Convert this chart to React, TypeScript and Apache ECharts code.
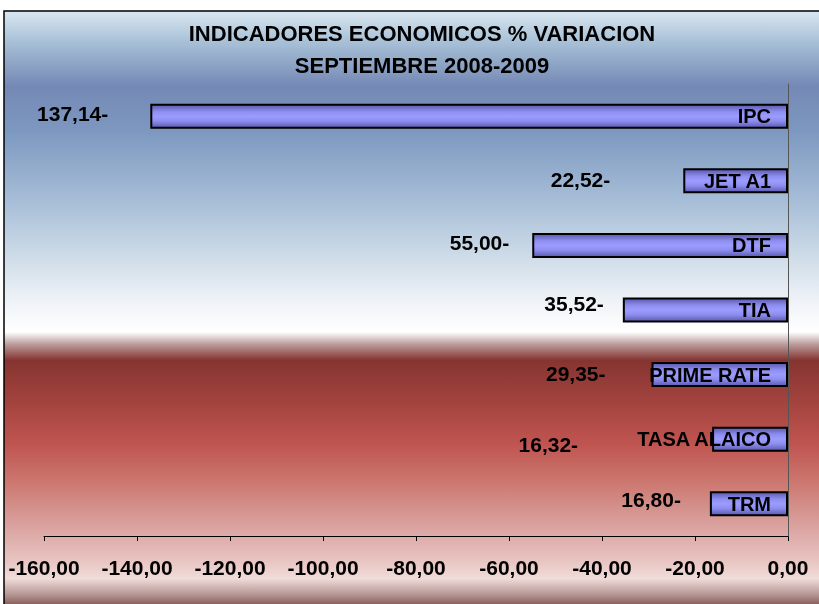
import React, { useEffect, useRef } from "react";
import * as echarts from "echarts";

const categories = ["IPC", "JET A1", "DTF", "TIA", "PRIME RATE", "TASA ALAICO", "TRM"];
const values = [-137.14, -22.52, -55.0, -35.52, -29.35, -16.32, -16.8];
const titleLines = ["INDICADORES ECONOMICOS % VARIACION", "SEPTIEMBRE 2008-2009"];
// manual nudges of the value labels (as placed in the original)
const labelNudges: [number, number][] = [
  [-42, -3],
  [-73, -1],
  [-23, -3],
  [-19, -7],
  [-46, -1],
  [-134, 5],
  [-29, -4],
];

const FONT = "'Liberation Sans', Arial, sans-serif";

function fmt(v: number): string {
  return Math.abs(v).toFixed(2).replace(".", ",") + "-";
}
function fmtAxis(v: number): string {
  return v.toFixed(2).replace(".", ",");
}

export default function App() {
  const ref = useRef<HTMLDivElement>(null);
  useEffect(() => {
    if (!ref.current) return;
    const chart = echarts.init(ref.current, null, { renderer: "svg" });
    const bg = new echarts.graphic.LinearGradient(0, 0, 0, 1, [
      { offset: 0, color: "#dae7f1" },
      { offset: 0.049, color: "#aac2d8" },
      { offset: 0.125, color: "#7489b5" },
      { offset: 0.2, color: "#7d98c0" },
      { offset: 0.32, color: "#a8bfd8" },
      { offset: 0.42, color: "#d3dfea" },
      { offset: 0.487, color: "#f0f4f8" },
      { offset: 0.535, color: "#ffffff" },
      { offset: 0.556, color: "#b89a98" },
      { offset: 0.582, color: "#863431" },
      { offset: 0.656, color: "#a5443f" },
      { offset: 0.723, color: "#c05550" },
      { offset: 0.79, color: "#cd7a73" },
      { offset: 0.858, color: "#daa29f" },
      { offset: 0.917, color: "#e8c5c2" },
      { offset: 0.946, color: "#f0dcd9" },
      { offset: 0.973, color: "#b59593" },
      { offset: 1, color: "#6c3a34" },
    ]);
    const barGrad = new echarts.graphic.LinearGradient(0, 0, 0, 1, [
      { offset: 0, color: "#5a5aae" },
      { offset: 0.3, color: "#8e8ef0" },
      { offset: 0.5, color: "#9c9cff" },
      { offset: 0.7, color: "#8e8ef0" },
      { offset: 1, color: "#5a5aae" },
    ]);
    chart.setOption({
      animation: false,
      graphic: [
        {
          type: "rect",
          z: -10,
          silent: true,
          shape: { x: 4, y: 11, width: 830, height: 600 },
          style: { fill: bg, stroke: "#000", lineWidth: 1.5 },
        },
      ],
      title: {
        text: titleLines.join("\n"),
        left: 417,
        top: 12,
        textAlign: "center",
        textStyle: {
          fontFamily: FONT,
          fontSize: 22,
          fontWeight: "bold",
          color: "#000",
          lineHeight: 32,
        },
      },
      grid: { left: 44, right: 31, top: 84, bottom: 68, containLabel: false },
      xAxis: {
        type: "value",
        min: -160,
        max: 0,
        interval: 20,
        position: "bottom",
        splitLine: { show: false },
        axisLine: { show: true, lineStyle: { color: "#000", width: 1 } },
        axisTick: { show: true, length: 5, lineStyle: { color: "#000" } },
        axisLabel: {
          formatter: fmtAxis,
          fontFamily: FONT,
          fontSize: 21,
          fontWeight: "bold",
          color: "#000",
          margin: 21,
        },
      },
      yAxis: {
        type: "category",
        data: categories,
        inverse: true,
        position: "right",
        z: 10,
        axisLine: { show: true, lineStyle: { color: "#555", width: 1 } },
        axisTick: { show: false },
        splitLine: { show: false },
        axisLabel: {
          inside: true,
          margin: 17,
          fontFamily: FONT,
          fontSize: 20,
          fontWeight: "bold",
          color: "#000",
        },
      },
      series: [
        {
          type: "bar",
          barWidth: 25,
          data: values.map((v, i) => ({
            value: v,
            label: { offset: labelNudges[i] },
          })),
          itemStyle: { color: barGrad, borderColor: "#000", borderWidth: 2 },
          label: {
            show: true,
            position: "left",
            distance: 0,
            formatter: (p: any) => fmt(p.value),
            fontFamily: FONT,
            fontSize: 21,
            fontWeight: "bold",
            color: "#000",
          },
        },
      ],
    });
    return () => chart.dispose();
  }, []);
  return (
    <div
      ref={ref}
      style={{ position: "fixed", left: 0, top: 0, width: 819, height: 604 }}
    />
  );
}
